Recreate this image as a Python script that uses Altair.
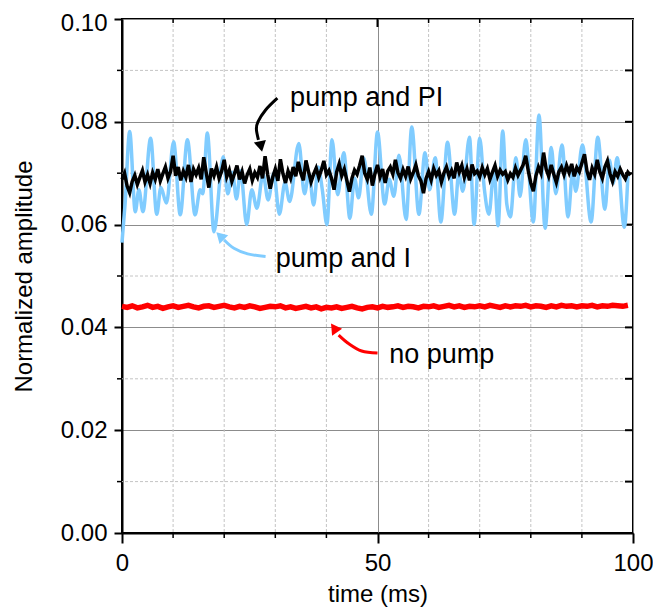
import altair as alt
import pandas as pd

W, H = 511, 514
FONT = "Liberation Sans"

# ---------------- data ----------------
# "pump and I" (light blue) : peaks / troughs
blue_t = [0.0, 0.6, 1.5, 2.6, 3.3, 4.1, 5.6, 6.8, 7.6, 8.7, 10.1, 11.4, 12.8, 14.3,
          15.3, 15.8, 16.7, 18.0, 19.8, 20.7, 21.6, 22.4, 23.2, 24.4, 25.4, 26.4,
          27.6, 28.6, 29.7, 30.8, 31.9, 32.8, 34.6, 35.7, 36.6, 37.5, 38.4, 39.2,
          40.1, 41.1, 42.2, 43.4, 44.6, 45.5, 46.3, 47.3, 48.8, 50.0, 51.4, 52.3,
          53.2, 54.2, 55.6, 56.7, 58.1, 59.3, 60.2, 61.3, 62.4, 63.7, 65.1, 65.9,
          66.7, 68.0, 68.9, 70.0, 70.9, 71.8, 72.8, 73.6, 74.5, 75.3, 76.0, 77.1,
          77.9, 79.0, 80.5, 81.6, 82.8, 84.0, 84.9, 86.1, 87.3, 88.2, 88.8, 90.1,
          91.8, 93.1, 94.5, 95.4, 96.1, 96.9, 98.3, 99.0]
blue_v = [0.0565, 0.0640, 0.0781, 0.0625, 0.0668, 0.0625, 0.0768, 0.0620, 0.0672, 0.0642,
          0.0761, 0.0619, 0.0765, 0.0619, 0.0668, 0.0660, 0.0778, 0.0586, 0.0732, 0.0660,
          0.0702, 0.0650, 0.0705, 0.0600, 0.0668, 0.0632, 0.0698, 0.0648, 0.0700, 0.0620,
          0.0682, 0.0645, 0.0758, 0.0660, 0.0700, 0.0638, 0.0712, 0.0668, 0.0600, 0.0765,
          0.0658, 0.0740, 0.0612, 0.0690, 0.0652, 0.0730, 0.0620, 0.0780, 0.0640, 0.0688,
          0.0655, 0.0735, 0.0610, 0.0790, 0.0620, 0.0740, 0.0668, 0.0730, 0.0605, 0.0760,
          0.0620, 0.0700, 0.0665, 0.0770, 0.0600, 0.0768, 0.0670, 0.0620, 0.0705, 0.0598,
          0.0782, 0.0640, 0.0615, 0.0730, 0.0655, 0.0765, 0.0605, 0.0813, 0.0593, 0.0750,
          0.0660, 0.0755, 0.0615, 0.0705, 0.0665, 0.0755, 0.0605, 0.0770, 0.0630, 0.0725,
          0.0680, 0.0730, 0.0595, 0.0695]

# "pump and PI" (black), one value every 0.5 ms
black_v = [
    0.0688, 0.0700, 0.0675, 0.0662, 0.0684, 0.0696, 0.0678, 0.0692, 0.0705, 0.0683,
    0.0697, 0.0680, 0.0701, 0.0688, 0.0708, 0.0685, 0.0699, 0.0712, 0.0690, 0.0703,
    0.0734, 0.0695, 0.0712, 0.0686, 0.0704, 0.0692, 0.0716, 0.0683, 0.0708, 0.0697,
    0.0710, 0.0688, 0.0731, 0.0700, 0.0672, 0.0709, 0.0695, 0.0712, 0.0690, 0.0704,
    0.0726, 0.0693, 0.0706, 0.0684, 0.0699, 0.0715, 0.0688, 0.0703, 0.0680, 0.0697,
    0.0708, 0.0686, 0.0701, 0.0692, 0.0714, 0.0690, 0.0733, 0.0698, 0.0670, 0.0692,
    0.0708, 0.0685, 0.0727, 0.0699, 0.0681, 0.0704, 0.0690, 0.0712, 0.0694, 0.0722,
    0.0700, 0.0686, 0.0725, 0.0703, 0.0683, 0.0698, 0.0710, 0.0692, 0.0706, 0.0724,
    0.0697, 0.0705, 0.0690, 0.0668, 0.0702, 0.0718, 0.0695, 0.0708, 0.0686, 0.0664,
    0.0690, 0.0706, 0.0698, 0.0715, 0.0734, 0.0700, 0.0688, 0.0711, 0.0676, 0.0699,
    0.0716, 0.0693, 0.0708, 0.0681, 0.0704, 0.0712, 0.0698, 0.0726, 0.0701, 0.0690,
    0.0707, 0.0694, 0.0713, 0.0689, 0.0701, 0.0716, 0.0695, 0.0685, 0.0661, 0.0690,
    0.0703, 0.0687, 0.0709, 0.0696, 0.0705, 0.0683, 0.0700, 0.0712, 0.0694, 0.0705,
    0.0690, 0.0721, 0.0702, 0.0715, 0.0692, 0.0708, 0.0686, 0.0717, 0.0699, 0.0704,
    0.0693, 0.0711, 0.0697, 0.0709, 0.0688, 0.0702, 0.0715, 0.0694, 0.0706, 0.0698,
    0.0703, 0.0687, 0.0699, 0.0692, 0.0710, 0.0696, 0.0706, 0.0716, 0.0734, 0.0705,
    0.0681, 0.0665, 0.0695, 0.0712, 0.0700, 0.0740, 0.0708, 0.0694, 0.0716, 0.0698,
    0.0682, 0.0703, 0.0712, 0.0697, 0.0715, 0.0701, 0.0718, 0.0694, 0.0711, 0.0703,
    0.0720, 0.0737, 0.0704, 0.0687, 0.0710, 0.0698, 0.0726, 0.0703, 0.0690, 0.0712,
    0.0724, 0.0699, 0.0684, 0.0703, 0.0694, 0.0708, 0.0697, 0.0689, 0.0702, 0.0696]

# "no pump" (red), one value every 1 ms
red_v = [
    0.0441, 0.0439, 0.0442, 0.0438, 0.0440, 0.0443, 0.0439, 0.0441, 0.0437, 0.0440,
    0.0442, 0.0439, 0.0441, 0.0443, 0.0440, 0.0438, 0.0441, 0.0442, 0.0439, 0.0441,
    0.0443, 0.0440, 0.0438, 0.0441, 0.0439, 0.0442, 0.0440, 0.0437, 0.0439, 0.0441,
    0.0440, 0.0442, 0.0438, 0.0440, 0.0437, 0.0439, 0.0441, 0.0438, 0.0440, 0.0436,
    0.0439, 0.0438, 0.0440, 0.0437, 0.0439, 0.0441, 0.0438, 0.0436, 0.0439, 0.0440,
    0.0438, 0.0441, 0.0439, 0.0440, 0.0442, 0.0439, 0.0441, 0.0440, 0.0438, 0.0441,
    0.0440, 0.0442, 0.0439, 0.0441, 0.0443, 0.0440, 0.0442, 0.0439, 0.0441, 0.0440,
    0.0442, 0.0440, 0.0443, 0.0441, 0.0439, 0.0442, 0.0440, 0.0442, 0.0441, 0.0443,
    0.0440, 0.0442, 0.0441, 0.0439, 0.0442, 0.0440, 0.0443, 0.0441, 0.0442, 0.0440,
    0.0442, 0.0441, 0.0443, 0.0440, 0.0442, 0.0441, 0.0443, 0.0442, 0.0441, 0.0443]

black_t = [i * 0.5 for i in range(len(black_v))]
red_t = [float(i) for i in range(len(red_v))]

x_major = [0, 50, 100]
x_minor = [10, 20, 30, 40, 60, 70, 80, 90]
y_major = [0.0, 0.02, 0.04, 0.06, 0.08, 0.10]
y_minor = [0.01, 0.03, 0.05, 0.07, 0.09]
y_inner = [0.01, 0.02, 0.03, 0.04, 0.05, 0.06, 0.07, 0.08, 0.09]

# annotations: label text, position, arrow path and arrow tip
labels = ["pump and PI", "pump and I", "no pump"]
label_t = [32.9, 30.1, 52.3]
label_v = [0.0831, 0.0518, 0.0330]

arrow_pi_t = [30.4, 28.1, 26.6, 26.3, 26.7]
arrow_pi_v = [0.0846, 0.0823, 0.0800, 0.0786, 0.0765]
arrow_i_t = [28.1, 24.6, 21.9, 20.0]
arrow_i_v = [0.0538, 0.0543, 0.0554, 0.0570]
arrow_np_t = [50.0, 46.9, 44.4, 42.4]
arrow_np_v = [0.0350, 0.0354, 0.0368, 0.0385]
tip_t = [27.2, 19.2, 41.5]
tip_v = [0.0752, 0.0578, 0.0399]
tip_angle = [168, 315, 325]
tip_color = ["black", "#80CCFF", "#FF0000"]

BLUE = "#80CCFF"
RED = "#FF0000"

# ---------------- scales / axes ----------------
xscale = alt.Scale(domain=[0, 100], nice=False, zero=False)
yscale = alt.Scale(domain=[0, 0.1], nice=False, zero=False)

x_axis = alt.Axis(values=x_major, title="time (ms)", grid=True, gridColor="#8c8c8c",
                  gridWidth=1, tickSize=10, tickWidth=2, tickColor="black",
                  domainColor="black", domainWidth=2, labelFontSize=24, labelFont=FONT,
                  labelColor="black", labelPadding=8, labelFlush=False,
                  titleFontSize=24, titleFont=FONT, titleFontWeight="normal",
                  titleColor="black", titlePadding=7)
y_axis = alt.Axis(values=y_major, format=".2f", title="Normalized amplitude", grid=True,
                  gridColor="#8c8c8c", gridWidth=1, tickSize=8, tickWidth=2,
                  tickColor="black", domainColor="black", domainWidth=2,
                  labelFontSize=24, labelFont=FONT, labelColor="black", labelPadding=7,
                  labelOffset={"condition": {"test": "datum.value >= 0.0999", "value": 4},
                               "value": 0},
                  labelFlush=False, titleFontSize=24, titleFont=FONT,
                  titleFontWeight="normal", titleColor="black", titlePadding=24)


def X():
    return alt.X("t:Q", scale=xscale, axis=x_axis)


def Y():
    return alt.Y("v:Q", scale=yscale, axis=y_axis)


# ---------------- layers ----------------
df_xminor = pd.DataFrame({"t": x_minor})
df_yminor = pd.DataFrame({"v": y_minor})

grid_x = alt.Chart(df_xminor).mark_rule(color="#c4c4c4", strokeDash=[3, 2], strokeWidth=1).encode(
    x=X())
grid_y = alt.Chart(df_yminor).mark_rule(color="#c4c4c4", strokeDash=[3, 2], strokeWidth=1).encode(
    y=Y())

tick_bottom = alt.Chart(df_xminor).mark_rule(color="black", strokeWidth=1.5).encode(
    x=X(), y=alt.value(H), y2=alt.value(H + 5))
tick_left = alt.Chart(df_yminor).mark_rule(color="black", strokeWidth=1.5).encode(
    y=Y(), x=alt.value(-5), x2=alt.value(0))
tick_top_minor = alt.Chart(df_xminor).mark_rule(color="black", strokeWidth=1.5).encode(
    x=X(), y=alt.value(0), y2=alt.value(4))
tick_top_major = alt.Chart(pd.DataFrame({"t": [50]})).mark_rule(color="black", strokeWidth=2).encode(
    x=X(), y=alt.value(0), y2=alt.value(8))
tick_right = alt.Chart(pd.DataFrame({"v": y_inner})).mark_rule(color="black", strokeWidth=2).encode(
    y=Y(), x=alt.value(W - 8), x2=alt.value(W))

blue = alt.Chart(pd.DataFrame({"t": blue_t, "v": blue_v})).mark_line(
    color=BLUE, strokeWidth=3.5, interpolate="monotone").encode(x=X(), y=Y())
black = alt.Chart(pd.DataFrame({"t": black_t, "v": black_v})).mark_line(
    color="black", strokeWidth=3.5).encode(x=X(), y=Y())
red = alt.Chart(pd.DataFrame({"t": red_t, "v": red_v})).mark_line(
    color=RED, strokeWidth=5.5).encode(x=X(), y=Y())


def arrow(ts, vs, color):
    d = pd.DataFrame({"t": ts, "v": vs, "i": list(range(len(ts)))})
    return alt.Chart(d).mark_line(color=color, strokeWidth=3, interpolate="cardinal").encode(
        x=X(), y=Y(), order="i:Q")


arr1 = arrow(arrow_pi_t, arrow_pi_v, "black")
arr2 = arrow(arrow_i_t, arrow_i_v, BLUE)
arr3 = arrow(arrow_np_t, arrow_np_v, RED)

tips = alt.Chart(pd.DataFrame({"t": tip_t, "v": tip_v, "a": tip_angle, "c": tip_color})).mark_point(
    shape="triangle-up", filled=True, size=150, opacity=1).encode(
    x=X(), y=Y(), angle=alt.Angle("a:Q", scale=None), color=alt.Color("c:N", scale=None))

text = alt.Chart(pd.DataFrame({"t": label_t, "v": label_v, "label": labels})).mark_text(
    align="left", baseline="alphabetic", fontSize=27, font=FONT, color="black").encode(
    x=X(), y=Y(), text="label:N")

chart = alt.layer(
    grid_x, grid_y, tick_bottom, tick_left, tick_top_minor, tick_top_major, tick_right,
    blue, black, red, arr1, arr2, arr3, tips, text
).properties(
    width=W, height=H,
    background="white",
    autosize=alt.AutoSizeParams(type="none"),
    padding={"left": 114, "top": 11, "right": 20, "bottom": 80},
).configure_view(stroke="black", strokeWidth=2)

chart.save("out.html", embed_options={"renderer": "svg", "actions": False})
